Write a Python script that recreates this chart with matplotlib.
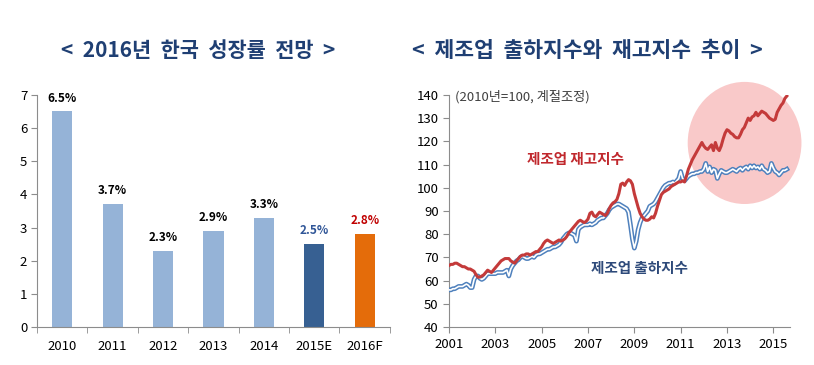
import matplotlib
matplotlib.use("Agg")
import matplotlib.pyplot as plt
from matplotlib.patches import Ellipse
import numpy as np

plt.rcParams['font.family'] = ['Noto Sans CJK KR', 'DejaVu Sans']

# ---------------- data: left chart ----------------
growth_categories = ['2010', '2011', '2012', '2013', '2014', '2015E', '2016F']
growth_values = [6.5, 3.7, 2.3, 2.9, 3.3, 2.5, 2.8]
growth_labels = ['6.5%', '3.7%', '2.3%', '2.9%', '3.3%', '2.5%', '2.8%']
bar_colors = ['#95B3D7', '#95B3D7', '#95B3D7', '#95B3D7', '#95B3D7', '#376092', '#E46C0A']
label_colors = ['black', 'black', 'black', 'black', 'black', '#2F5597', '#C00000']

# ---------------- data: right chart (monthly, 2001-01 .. 2015-08) ----------------
start_year = 2001
inventory = [
    66.5, 67, 67, 67.5, 67.5, 67, 66.5, 66, 66, 65.5, 65, 65,            # 2001
    64.5, 64, 62.5, 61.5, 61.5, 62, 62.5, 63.5, 64.5, 64, 63.5, 64.5,   # 2002
    65.5, 66.5, 67.5, 68.5, 69, 69.5, 69.5, 69.5, 68.5, 68, 67.5, 68.5, # 2003
    69.5, 70.5, 71, 71, 71.5, 71.5, 71, 71.5, 72, 72.5, 72.5, 73.5,     # 2004
    74.5, 76, 77, 77.5, 77, 76.5, 76, 76.5, 77, 77.5, 77, 77.5,         # 2005
    78, 79, 80.5, 81.5, 82.5, 83.5, 84.5, 85.5, 86, 85.5, 85, 85.5,     # 2006
    86.5, 89, 89.5, 88, 87.5, 88.5, 89.5, 89, 88.5, 88, 89, 91,         # 2007
    92.5, 93.5, 94, 95, 97.5, 101.5, 102, 101, 102.5, 103.5, 103, 101.5, # 2008
    97.5, 94.5, 91.5, 89, 87.5, 86.5, 86, 86, 86.5, 87.5, 87, 89,       # 2009
    92, 94.5, 97, 98, 98.5, 99, 99.5, 100.5, 101, 101.5, 102, 102.5,    # 2010
    102.5, 103, 102.5, 105, 108, 110, 112, 113.5, 115, 116.5, 118, 119.5, # 2011
    118, 117, 116.5, 117.5, 118.5, 116, 119.5, 117, 116, 118, 121, 123.5, # 2012
    125, 124.5, 123.5, 123, 122, 121.5, 121.5, 123, 125, 126, 128, 130,  # 2013
    129, 130.5, 131, 132.5, 131, 132, 133, 132.5, 132, 131, 130, 129.5,  # 2014
    129, 129.5, 132.5, 134, 135.5, 136.5, 138.5, 139.5,                  # 2015
]
shipment = [
    56, 56, 56.5, 56.5, 57, 57.5, 57.5, 57.5, 58, 58.5, 58, 57,          # 2001
    57, 60.5, 62, 62, 61, 60.5, 61, 62, 63, 63, 63, 63,                  # 2002
    63, 63.5, 63.5, 63.5, 63.5, 64, 64.5, 62, 65, 66.5, 67.5, 68.5,      # 2003
    69, 70, 70.5, 70, 69.5, 69.5, 70, 70.5, 70, 71, 71.5, 71.5,          # 2004
    72, 72.5, 73, 73.5, 73.5, 74, 74.5, 74.5, 75, 75.5, 76.5, 78,        # 2005
    79, 80, 80.5, 80.5, 80, 79.5, 77, 82, 83, 83.5, 84, 84,              # 2006
    84, 84.5, 84, 84.5, 85, 86, 86.5, 87, 87, 88, 89, 90.5,              # 2007
    91.5, 92, 92.5, 93, 93, 92.5, 92, 91.5, 91, 89.5, 84, 78,            # 2008
    74, 77, 82, 85, 87, 88, 89, 90, 92, 92.5, 93, 94,                    # 2009
    95.5, 97, 98.5, 100, 101, 101.5, 102, 102, 102.5, 102, 103, 104,     # 2010
    107, 104, 103, 104, 105, 105.5, 106, 106, 106.5, 106.5, 107, 107,    # 2011
    108, 110.5, 107, 109, 106.5, 108, 107.5, 104, 106, 107.5, 107, 106.5, # 2012
    106.5, 107, 107.5, 108, 107.5, 107, 108, 108.5, 107.5, 108.5, 109, 108, # 2013
    109.5, 108.5, 109.5, 108.5, 109, 108, 109.5, 108, 107.5, 106.5, 107, 110.5, # 2014
    108.5, 107, 106.5, 105.5, 106.5, 107.5, 107.5, 108,                  # 2015
]
year_ticks = [2001, 2003, 2005, 2007, 2009, 2011, 2013, 2015]
value_ticks = [40, 50, 60, 70, 80, 90, 100, 110, 120, 130, 140]

title_color = '#1F3F73'
axis_color = '#8C8C8C'

fig = plt.figure(figsize=(8.14, 3.65), dpi=100)

# ---------------- left chart ----------------
ax1 = fig.add_axes([0.0455, 0.104, 0.4335, 0.636])
x = np.arange(len(growth_categories))
ax1.bar(x, growth_values, width=0.4, color=bar_colors, zorder=2)
for xi, v, lab, c in zip(x, growth_values, growth_labels, label_colors):
    ax1.annotate(lab, (xi, v), xytext=(0, 5), textcoords='offset points',
                 ha='center', va='bottom', fontsize=8.5, fontweight='bold', color=c)
ax1.set_xlim(-0.5, len(growth_categories) - 0.5)
ax1.set_ylim(0, 7)
ax1.set_yticks(range(0, 8))
ax1.set_xticks(x)
ax1.set_xticklabels(growth_categories)
ax1.set_xticks(np.arange(-0.5, len(growth_categories)), minor=True)
ax1.tick_params(axis='x', which='major', length=0, pad=9, labelsize=9.5)
ax1.tick_params(axis='x', which='minor', length=4, color=axis_color, direction='out')
ax1.tick_params(axis='y', length=4, color=axis_color, labelsize=9.5, pad=3)
for s in ['top', 'right']:
    ax1.spines[s].set_visible(False)
for s in ['left', 'bottom']:
    ax1.spines[s].set_color(axis_color)
    ax1.spines[s].set_linewidth(0.8)

# ---------------- right chart ----------------
ax2 = fig.add_axes([0.5516, 0.104, 0.4189, 0.636])
t = start_year + np.arange(len(inventory)) / 12.0
ell = Ellipse((2013.76, 119.3), width=4.91, height=52.6, facecolor='#F9C9C9',
              edgecolor='none', zorder=1, clip_on=False)
ax2.add_patch(ell)
ax2.plot(t, shipment, color='#4F81BD', lw=3.4, zorder=3, solid_joinstyle='round')
ax2.plot(t, shipment, color='white', lw=1.2, zorder=4, solid_joinstyle='round')
ax2.plot(t, inventory, color='#C43A3A', lw=2.2, zorder=5, solid_joinstyle='round')
ax2.set_xlim(2001, 2015.72)
ax2.set_ylim(40, 140)
ax2.set_xticks(year_ticks)
ax2.set_xticklabels([str(y) for y in year_ticks])
ax2.set_yticks(value_ticks)
ax2.tick_params(axis='both', length=4, color=axis_color, labelsize=9.5)
ax2.tick_params(axis='x', pad=4)
for s in ['top', 'right']:
    ax2.spines[s].set_visible(False)
for s in ['left', 'bottom']:
    ax2.spines[s].set_color(axis_color)
    ax2.spines[s].set_linewidth(0.8)

ax2.text(0.018, 0.99, '(2010년=100, 계절조정)', transform=ax2.transAxes,
         ha='left', va='center', fontsize=9.5, color='#404040')
ax2.text(2006.45, 112.5, '제조업 재고지수', ha='center', va='center',
         fontsize=10.5, fontweight='bold', color='#C0282D', zorder=6)
ax2.text(2009.2, 65.5, '제조업 출하지수', ha='center', va='center',
         fontsize=10.5, fontweight='bold', color='#2E4A7A', zorder=6)

# ---------------- titles ----------------
fig.text(0.243, 0.863, '<  2016년  한국  성장률  전망  >', ha='center', va='center',
         fontsize=15, fontweight='bold', color=title_color)
fig.text(0.721, 0.863, '<  제조업  출하지수와  재고지수  추이  >', ha='center', va='center',
         fontsize=15.5, fontweight='bold', color=title_color)

fig.savefig('out.png', dpi=100)
